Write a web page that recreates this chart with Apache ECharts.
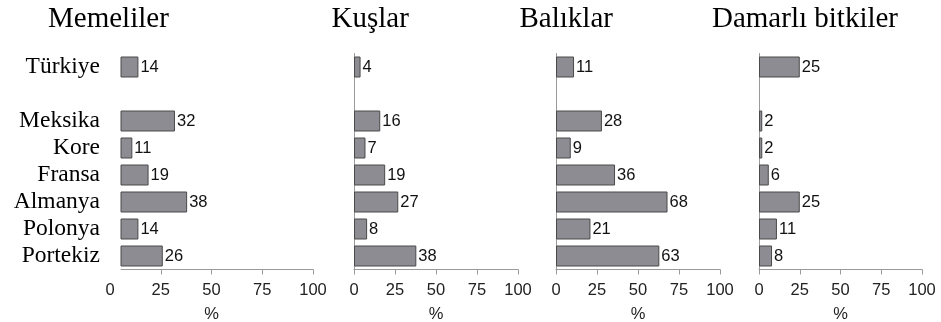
<!DOCTYPE html>
<html>
<head>
<meta charset="utf-8">
<script src="https://cdn.jsdelivr.net/npm/echarts@6/dist/echarts.min.js"></script>
<style>
  html, body { margin: 0; padding: 0; background: #fff; }
  #chart { width: 941px; height: 322px; }
</style>
</head>
<body>
<div id="chart"></div>
<script>
// Countries (the empty entry is the spacer row under Türkiye)
const countries = ['Türkiye', '', 'Meksika', 'Kore', 'Fransa', 'Almanya', 'Polonya', 'Portekiz'];

// Threatened species share, % of known species
const panelTitles = ['Memeliler', 'Kuşlar', 'Balıklar', 'Damarlı bitkiler'];
const memeliler = [14, null, 32, 11, 19, 38, 14, 26];
const kuslar    = [4, null, 16, 7, 19, 27, 8, 38];
const baliklar  = [11, null, 28, 9, 36, 68, 21, 63];
const bitkiler  = [25, null, 2, 2, 6, 25, 11, 8];

const xTicks = [0, 25, 50, 75, 100];

const panelData = [memeliler, kuslar, baliklar, bitkiler];

// layout
const TOP = 53.5, BOTTOM = 52.5;
// first panel: tick labels span 110..313, bars start at the axis line at 121
const p1LabelLeft = 110, p1BarLeft = 121, p1Right = 313;
const p1Base = 100 * (p1BarLeft - p1LabelLeft) / (p1Right - p1LabelLeft);
const panels = [
  { left: p1BarLeft, right: p1Right },
  { left: 354, right: 518 },
  { left: 556, right: 720 },
  { left: 759, right: 922 }
];
const titleLefts = [48, 331.5, 519.5, 712];

const axisGray = '#9a9a9a';
const sans = 'Liberation Sans, Arial, sans-serif';
const serif = 'Liberation Serif, Times New Roman, serif';
const tickFont = { fontFamily: sans, fontSize: 16.5, color: '#222' };
const LABEL_MARGIN = 12, NAME_GAP = 36;

function makeGrid(left, right) {
  return {
    left: left, width: right - left, top: TOP, bottom: BOTTOM,
    containLabel: false, outerBoundsMode: 'none'
  };
}

const grids = [];
const xAxes = [];
const yAxes = [];
const series = [];

// grid 0: tick labels and the "%" name of the first panel
grids.push(makeGrid(p1LabelLeft, p1Right));
xAxes.push({
  type: 'value', gridIndex: 0, min: 0, max: 100, interval: 25,
  axisLine: { show: false }, axisTick: { show: false }, splitLine: { show: false },
  axisLabel: Object.assign({ margin: LABEL_MARGIN }, tickFont),
  name: '%', nameLocation: 'middle', nameGap: NAME_GAP,
  nameTextStyle: tickFont
});
yAxes.push({ type: 'category', gridIndex: 0, data: countries, inverse: true, show: false });

panels.forEach((p, i) => {
  const gi = grids.length;
  grids.push(makeGrid(p.left, p.right));
  const first = i === 0;
  xAxes.push({
    type: 'value', gridIndex: gi,
    min: first ? p1Base : 0, max: 100, interval: 25,
    axisLine: { show: true, lineStyle: { color: axisGray, width: 1 } },
    axisTick: first
      ? { show: true, length: 5, lineStyle: { color: axisGray }, customValues: xTicks.slice(1) }
      : { show: true, length: 5, lineStyle: { color: axisGray } },
    splitLine: { show: false },
    axisLabel: first
      ? { show: false }
      : Object.assign({ margin: LABEL_MARGIN, customValues: xTicks }, tickFont),
    name: first ? '' : '%', nameLocation: 'middle', nameGap: NAME_GAP,
    nameTextStyle: tickFont
  });
  yAxes.push({
    type: 'category', gridIndex: gi, data: countries, inverse: true,
    axisLine: { show: !first, lineStyle: { color: axisGray, width: 1 } },
    axisTick: { show: false },
    axisLabel: first
      ? { show: true, interval: 0, fontFamily: serif, fontSize: 23.5, color: '#000', margin: 21 }
      : { show: false }
  });
  series.push({
    name: panelTitles[i],
    type: 'bar',
    xAxisIndex: gi, yAxisIndex: gi,
    data: panelData[i],
    barWidth: 21,
    itemStyle: { color: '#8c8c92', borderColor: '#4a4a4a', borderWidth: 1 },
    label: {
      show: true, position: 'right', distance: 2,
      fontFamily: sans, fontSize: 16.5, color: '#111',
      formatter: (d) => (d.value == null ? '' : String(d.value))
    },
    silent: true,
    animation: false
  });
});

const titles = panelTitles.map((t, i) => ({
  text: t, left: titleLefts[i], top: 5,
  textStyle: { fontFamily: serif, fontSize: 29, fontWeight: 'normal', color: '#000' },
  padding: 0
}));

const chart = echarts.init(document.getElementById('chart'), null, { renderer: 'canvas' });
chart.setOption({
  animation: false,
  backgroundColor: '#fff',
  title: titles,
  grid: grids,
  xAxis: xAxes,
  yAxis: yAxes,
  series: series
});
</script>
</body>
</html>
